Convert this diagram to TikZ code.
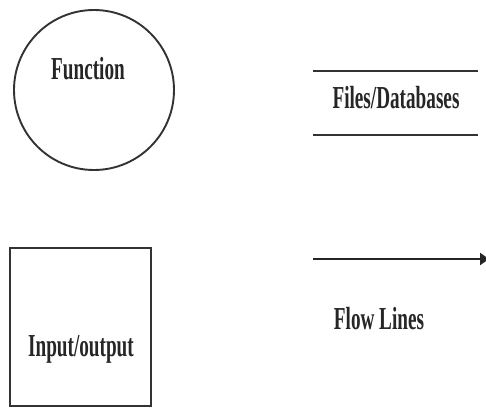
\documentclass[tikz,border=0pt]{standalone}
\usepackage{fontspec}
\setmainfont{Liberation Serif}[FakeStretch=0.6]
\usetikzlibrary{arrows.meta}
\tikzset{
  symtext/.style={font=\fontsize{32}{34}\selectfont\bfseries, text=black!85, anchor=base, inner sep=0pt},
  outline/.style={draw=black!80, line width=1.9pt},
  storeline/.style={draw=black!80, line width=2.8pt},
  flowline/.style={draw=black!85, line width=2.4pt, -{Triangle[length=9pt,width=12pt]}},
}
\begin{document}
\begin{tikzpicture}[x=1pt,y=-1pt]
  \useasboundingbox[fill=white] (0,0) rectangle (486,410);
  % process symbol
  \node[outline, circle, minimum size=160pt, inner sep=0pt] (func) at (94,90) {};
  \node[symtext] (funclabel) at (88,79) {Function};
  % data store symbol
  \coordinate (storeTL) at (313,71);
  \coordinate (storeTR) at (478,71);
  \coordinate (storeBL) at (313,135);
  \coordinate (storeBR) at (478,135);
  \draw[storeline] (storeTL) -- (storeTR);
  \draw[storeline] (storeBL) -- (storeBR);
  \node[symtext] (storelabel) at (396,108) {Files/Databases};
  % external entity symbol
  \node[outline, rectangle, minimum width=141pt, minimum height=158pt, inner sep=0pt] (io) at (80.5,327) {};
  \node[symtext] (iolabel) at (81,356) {Input/output};
  % data flow symbol
  \coordinate (flowstart) at (313,259);
  \coordinate (flowend) at (489,259);
  \draw[flowline] (flowstart) -- (flowend);
  \node[symtext] (flowlabel) at (379,329) {Flow Lines};
\end{tikzpicture}
\end{document}
